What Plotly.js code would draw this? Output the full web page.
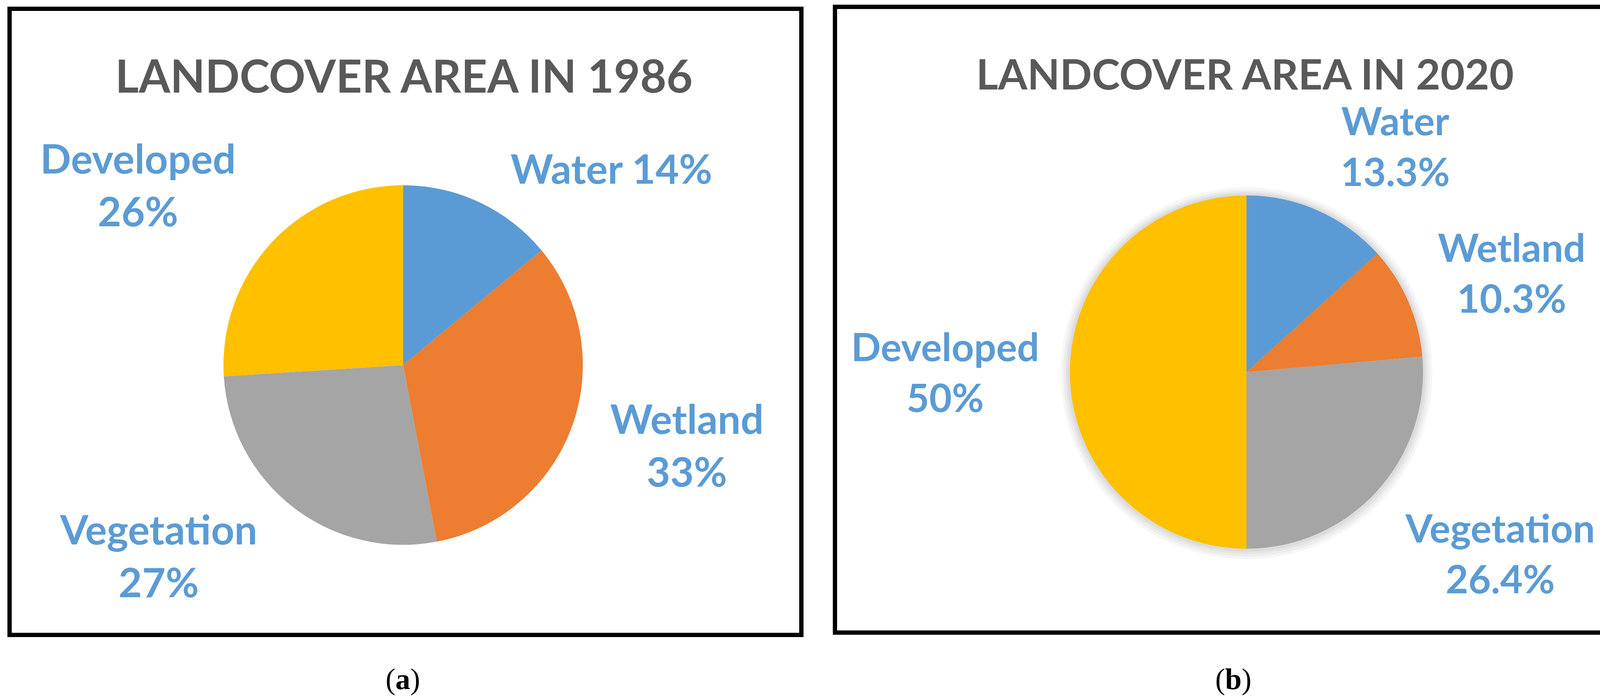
<!DOCTYPE html>
<html>
<head>
<meta charset="utf-8">
<script src="https://cdn.plot.ly/plotly-3.0.1.min.js"></script>
<style>
html,body{margin:0;padding:0;background:#fff;}
#chart{width:4215px;height:1791px;}
</style>
</head>
<body>
<div id="chart"></div>
<script>
// ---- data ----
const categories = ['Water', 'Wetland', 'Vegetation', 'Developed'];
const values1986 = [14, 33, 27, 26];
const values2020 = [13.3, 10.3, 26.4, 50];
const title1986 = 'LANDCOVER AREA IN 1986';
const title2020 = 'LANDCOVER AREA IN 2020';
const panelTags = ['(<b>a</b>)', '(<b>b</b>)'];
// separator between category name and value in each label (1986 "Water 14%" is on one line)
const sep1986 = [' ', '<br>', '<br>', '<br>'];
const sep2020 = ['<br>', '<br>', '<br>', '<br>'];

// ---- style ----
const sliceColors = ['#5B9BD5', '#ED7D31', '#A5A5A5', '#FFC000'];
const labelColor = '#5B9BD5';
const titleColor = '#595959';
const W = 4215, H = 1791;

function px(x) { return x / W; }
function py(y) { return 1 - y / H; }
function domainFor(cx, cy, r) {
  return { x: [px(cx - r), px(cx + r)], y: [py(cy + r), py(cy - r)] };
}

const pieA = {
  type: 'pie', values: values1986, labels: categories, sort: false,
  direction: 'clockwise', rotation: 0, textinfo: 'none', hoverinfo: 'none',
  marker: { colors: sliceColors, line: { width: 0 } },
  domain: domainFor(1032, 934, 460)
};
const pieB = {
  type: 'pie', values: values2020, labels: categories, sort: false,
  direction: 'clockwise', rotation: 0, textinfo: 'none', hoverinfo: 'none',
  marker: { colors: sliceColors, line: { width: 0 } },
  domain: domainFor(3191, 952, 452)
};

// label positions (pixel centres) for each category
const posA = [[1565, 429], [1758, 1137], [406, 1420], [353, 471]];
const posB = [[3572, 372], [3870, 696], [3840, 1414], [2419, 950]];

const annotations = [];
function addAnn(text, x, y, size, color, family, weight) {
  annotations.push({
    text: text, x: px(x), y: py(y), xref: 'paper', yref: 'paper',
    xanchor: 'center', yanchor: 'middle', showarrow: false,
    font: { size: size, color: color, family: family, weight: weight || 'normal' }
  });
}
categories.forEach((c, i) => {
  addAnn(c + sep1986[i] + values1986[i] + '%', posA[i][0], posA[i][1], 104, labelColor, 'Lato', 'bold');
  addAnn(c + sep2020[i] + values2020[i] + '%', posB[i][0], posB[i][1], 100, labelColor, 'Lato', 'bold');
});
addAnn(title1986, 1034, 193, 116, titleColor, 'Lato', 'bold');
addAnn(title2020, 3187, 187, 108, titleColor, 'Lato', 'bold');
addAnn(panelTags[0], 1031, 1737, 76, '#000', 'Liberation Serif');
addAnn(panelTags[1], 3157, 1737, 76, '#000', 'Liberation Serif');

function rect(x0, y0, x1, y1) {
  return { type: 'rect', xref: 'paper', yref: 'paper',
    x0: px(x0), x1: px(x1), y0: py(y1), y1: py(y0),
    line: { color: '#000', width: 11 }, fillcolor: 'rgba(0,0,0,0)' };
}
// soft shadow halo behind the 2020 pie
function halo(cx, cy, r) {
  return { type: 'circle', xref: 'paper', yref: 'paper', layer: 'below',
    x0: px(cx - r), x1: px(cx + r), y0: py(cy + r), y1: py(cy - r),
    line: { width: 0 }, fillcolor: 'rgba(0,0,0,0.035)' };
}

const layout = {
  width: W, height: H,
  margin: { l: 0, r: 0, t: 0, b: 0, pad: 0 },
  paper_bgcolor: '#fff', plot_bgcolor: '#fff',
  showlegend: false,
  annotations: annotations,
  shapes: [
    halo(3191, 955, 476), halo(3191, 955, 469), halo(3191, 954, 463), halo(3191, 953, 458),
    rect(24.5, 22.5, 2051.5, 1624.5), rect(2137.5, 17.5, 4186.5, 1618.5)
  ]
};

Plotly.newPlot('chart', [pieA, pieB], layout, { staticPlot: true, displayModeBar: false });
</script>
</body>
</html>
